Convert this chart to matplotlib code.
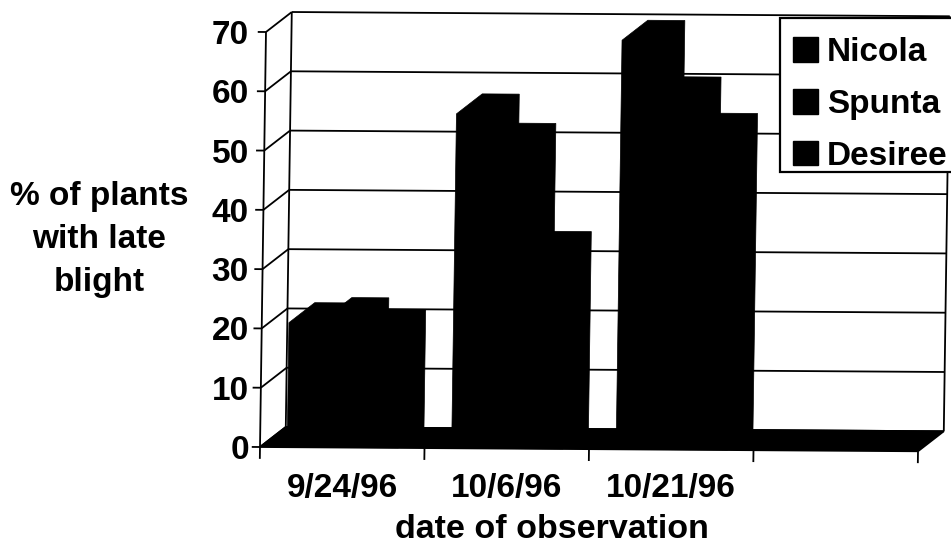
import matplotlib
matplotlib.use('Agg')
import matplotlib.pyplot as plt
from matplotlib.patches import Patch, Polygon, Rectangle
from matplotlib.transforms import Affine2D

dates = ['9/24/96', '10/6/96', '10/21/96', '']
varieties = ['Nicola', 'Spunta', 'Desiree']
nicola = [21.0, 56.4, 69.0, 0]
spunta = [21.9, 51.5, 59.5, 0]
desiree = [19.9, 33.3, 53.4, 0]
y_ticks = [0, 10, 20, 30, 40, 50, 60, 70]

plt.rcParams['font.family'] = ['Liberation Sans', 'DejaVu Sans']
plt.rcParams['font.weight'] = 'bold'

W, H = 951, 545
fig = plt.figure(figsize=(W / 100, H / 100), dpi=100)
ax = fig.add_axes([260 / W, 1 - 447 / H, 658 / W, 415 / H])
ax.set_xlim(0, 4)
ax.set_ylim(0, 70)
for s in ax.spines.values():
    s.set_visible(False)
ax.patch.set_visible(False)

# the scan is a little crooked, so everything goes through a small shear
tr = Affine2D.from_values(1, -0.18, 0.00052, 1, 0, 0) + ax.transData

depth_x = 0.155
depth_y = 3.4
bar_w = 0.225
start = 0.165
lw = 1.3


def line(xs, ys, lw=lw):
    ax.plot(xs, ys, color='black', lw=lw, transform=tr, clip_on=False, solid_capstyle='butt')


# walls and gridlines
for v in y_ticks:
    line([0, depth_x], [v, v + depth_y])
    line([depth_x, 4 + depth_x], [v + depth_y, v + depth_y])
    line([-0.05, 0], [v, v])
line([0, 0], [0, 70])
line([depth_x, depth_x], [0 + depth_y, 70 + depth_y])
line([4 + depth_x, 4 + depth_x], [depth_y, 70 + depth_y])
for i in range(5):
    line([i, i], [0, -2])

# floor
ax.add_patch(Polygon([(0, 0), (4, 0), (4 + depth_x, depth_y), (depth_x, depth_y)],
                     closed=True, fc='black', ec='black', lw=lw, transform=tr, clip_on=False, zorder=3))

# bars, front-left to back-right so each one covers the side of the last
for i in range(3):
    for j, vals in enumerate([nicola, spunta, desiree]):
        v = vals[i]
        if v == 0:
            continue
        x0 = i + start + j * bar_w
        x1 = x0 + bar_w
        pts = [(x0, 0), (x0, v), (x0 + depth_x, v + depth_y), (x1 + depth_x, v + depth_y),
               (x1 + depth_x, depth_y), (x1, 0)]
        ax.add_patch(Polygon(pts, closed=True, fc='black', ec='black', lw=0.5,
                             transform=tr, clip_on=False, zorder=4))

ax.set_yticks(y_ticks)
ax.set_yticklabels([str(v) for v in y_ticks], fontsize=24)
ax.set_xticks([0.5, 1.5, 2.5, 3.5])
ax.set_xticklabels(dates, fontsize=24)
ax.tick_params(axis='y', length=0, pad=8)
ax.tick_params(axis='x', length=0, pad=18.5)

ax.set_xlabel('date of observation', fontsize=24.5, fontweight='bold', va='baseline')
ax.xaxis.set_label_coords(292 / 658, -91 / 415)
ax.set_ylabel('% of plants\nwith late\nblight', fontsize=24, fontweight='bold',
              rotation=0, ha='center', va='center', linespacing=1.5)
ax.yaxis.set_label_coords(-161 / 658, 207 / 415)

# legend box is drawn by hand: the entries do not sit centred in it
ax.add_patch(Rectangle((780 / W, 1 - 172 / H), 175 / W, 154 / H, transform=fig.transFigure,
                       fc='white', ec='black', lw=1.6, clip_on=False, zorder=5))
handles = [Patch(fc='black', ec='black', label=n) for n in varieties]
leg = ax.legend(handles=handles, loc='upper left', bbox_to_anchor=(780 / W, 1 - 24 / H),
                bbox_transform=fig.transFigure, fontsize=24, frameon=False,
                handlelength=0.75, handleheight=0.75,
                handletextpad=0.25, labelspacing=0.62, borderpad=0.4, borderaxespad=0)
leg.set_zorder(6)

fig.savefig('out.png', dpi=100)
